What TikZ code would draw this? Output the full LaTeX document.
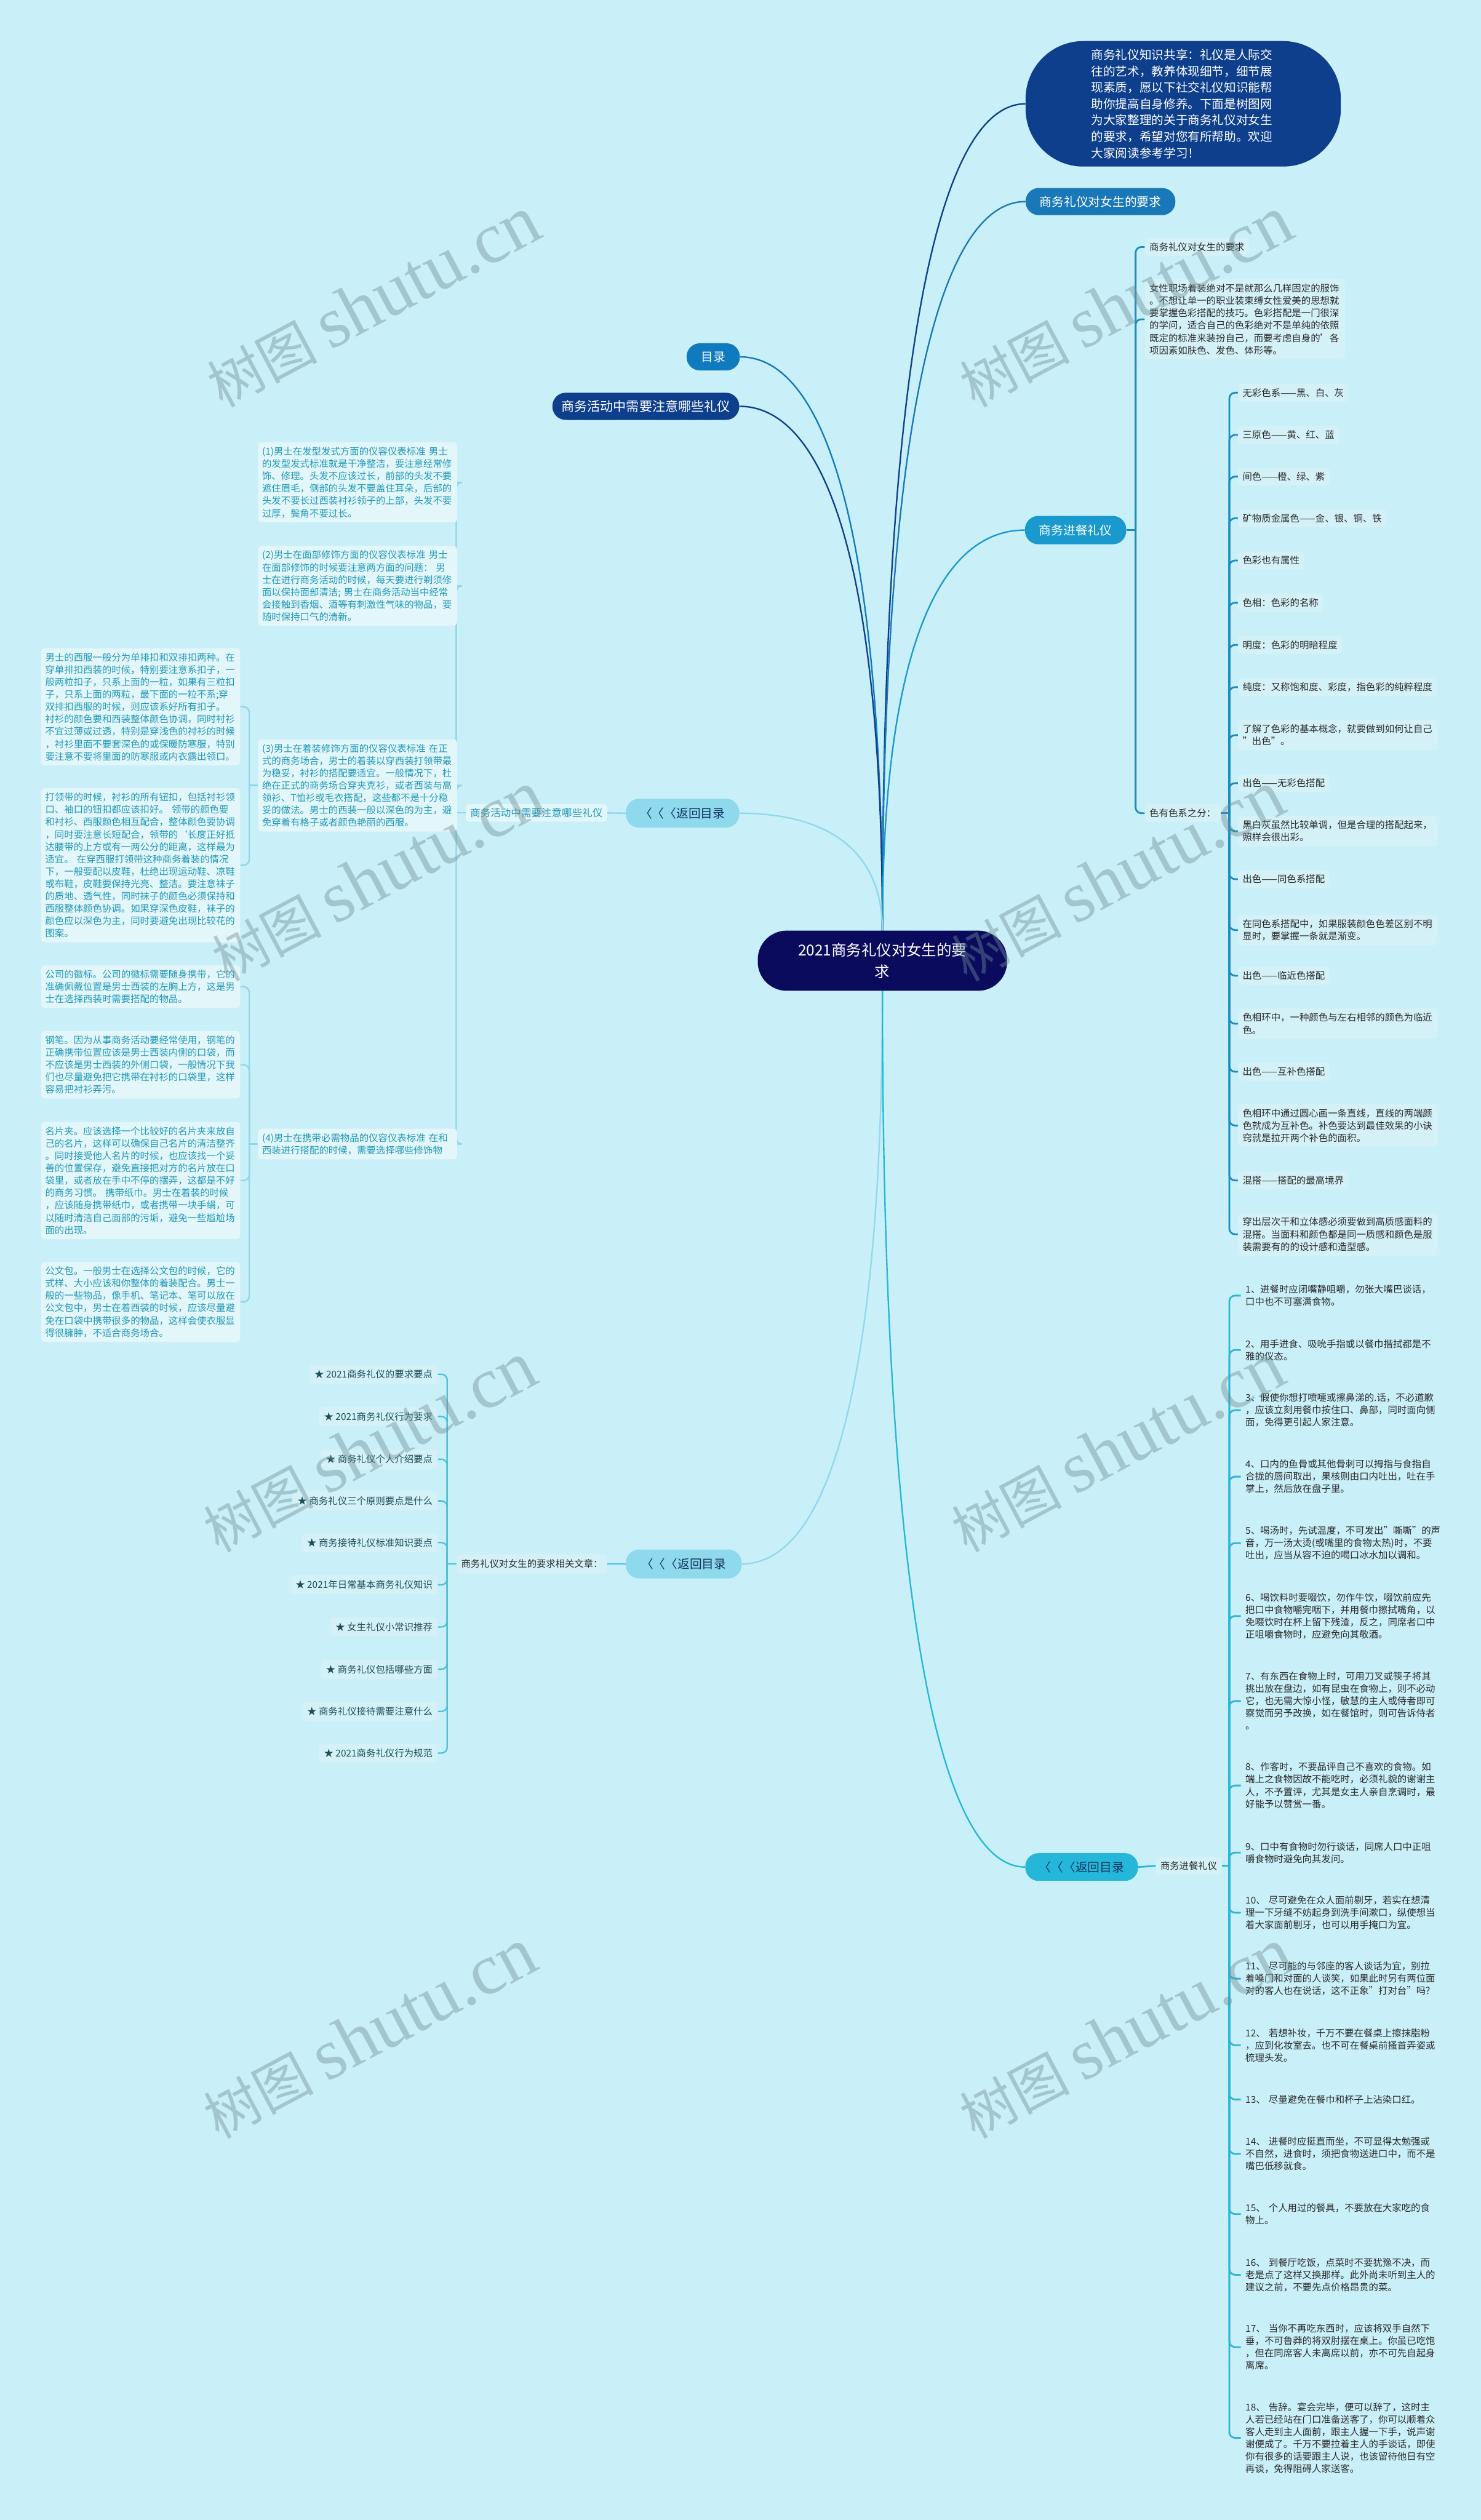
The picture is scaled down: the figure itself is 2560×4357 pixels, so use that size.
\documentclass[tikz,border=0pt]{standalone}
\usepackage{fontspec}
\setmainfont{Noto Sans CJK SC}
\newfontfamily\wmlatin{Liberation Serif}
\usetikzlibrary{calc}
\pgfdeclarelayer{back}\pgfdeclarelayer{bg}\pgfsetlayers{back,bg,main}
\definecolor{bgc}{HTML}{C9EFF8}
\definecolor{navy}{HTML}{0B0B5E}
\definecolor{dblue}{HTML}{0E3F8C}
\definecolor{mblue}{HTML}{1978B8}
\definecolor{mulublue}{HTML}{0F7BBE}
\definecolor{dineblue}{HTML}{1A99CF}
\definecolor{lcyan}{HTML}{8ED9EC}
\definecolor{bcyan}{HTML}{25B7D9}
\definecolor{brA}{HTML}{1C8DBF}
\definecolor{brD}{HTML}{2DB6D6}
\definecolor{brL}{HTML}{92D6E9}
\definecolor{brR}{HTML}{4CC1DB}
\definecolor{leaffill}{HTML}{D4F1F8}
\definecolor{tealfill}{HTML}{E3F6FA}
\definecolor{tealtext}{HTML}{2199B6}
\definecolor{darktext}{HTML}{2B2B2B}
\definecolor{listtext}{HTML}{1E4E58}
\definecolor{backtext}{HTML}{12355E}
\definecolor{wmcol}{HTML}{6F8E95}
\tikzset{
 cen/.style={fill=navy, text=white, rounded corners=50pt, minimum width=431pt, minimum height=104pt, inner sep=0pt, align=center, font=\fontsize{26}{37}\selectfont},
 introbox/.style={fill=dblue, text=white, rounded corners=100pt, minimum width=545pt, minimum height=217pt, inner sep=0pt, text width=318pt, align=left, font=\fontsize{20.9}{28.3}\selectfont},
 lonebox/.style={rounded corners=23pt, inner sep=0pt, minimum height=47pt, font=\fontsize{21}{25}\selectfont},
 leaf/.style={fill=leaffill, text=darktext, rounded corners=6pt, inner xsep=8pt, inner ysep=8pt, anchor=west, align=left, font=\fontsize{16.4}{21.4}\selectfont},
 leafm/.style={leaf, text width=330pt},
 dinebox/.style={text=darktext, inner xsep=8pt, inner ysep=4pt, anchor=west, align=left, text width=332pt, font=\fontsize{16.4}{21.3}\selectfont},
 tealbox/.style={fill=tealfill, text=tealtext, rounded corners=6pt, inner xsep=7pt, inner ysep=8pt, anchor=west, align=left, text width=330pt, font=\fontsize{16.4}{21.4}\selectfont},
 listbox/.style={fill=leaffill, text=listtext, rounded corners=6pt, inner xsep=9pt, inner ysep=9pt, anchor=east, font=\fontsize{16.4}{20}\selectfont},
 conn/.style={line width=2.5pt},
 br/.style={line width=3pt, rounded corners=10pt},
 brl/.style={line width=2.5pt, rounded corners=10pt},
 wm/.style={rotate=28, text=wmcol, text opacity=0.42, inner sep=0pt}
}
\begin{document}
\begin{tikzpicture}[x=1pt,y=-1pt]
\useasboundingbox (0,0) rectangle (2560,4357);
\begin{pgfonlayer}{back}
\fill[bgc] (0,0) rectangle (2560,4357);
\end{pgfonlayer}

% central and first level
\node[cen] (c) at (1525.5,1661) {2021商务礼仪对女生的要\\求};
\node[introbox] (intro) at (2045.5,179.5) {商务礼仪知识共享：礼仪是人际交\\往的艺术，教养体现细节，细节展\\现素质，愿以下社交礼仪知识能帮\\助你提高自身修养。下面是树图网\\为大家整理的关于商务礼仪对女生\\的要求，希望对您有所帮助。欢迎\\大家阅读参考学习！};
\node[lonebox, fill=mblue, text=white, minimum width=259pt] (req) at (1902.5,348.5) {商务礼仪对女生的要求};
\node[lonebox, fill=mulublue, text=white, minimum width=92pt] (mulu) at (1233,617) {目录};
\node[lonebox, fill=dblue, text=white, minimum width=323pt, font=\fontsize{22.5}{26}\selectfont] (act) at (1116.5,702.5) {商务活动中需要注意哪些礼仪};
\node[lonebox, fill=dineblue, text=white, minimum width=175pt, minimum height=49pt] (dine) at (1859.5,916.5) {商务进餐礼仪};
\node[lonebox, fill=lcyan, text=backtext, minimum width=196pt, minimum height=50pt] (back1) at (1180,1406) {〈〈〈返回目录};
\node[lonebox, fill=lcyan, text=backtext, minimum width=200pt, minimum height=50pt] (back2) at (1182,2704) {〈〈〈返回目录};
\node[lonebox, fill=bcyan, text=backtext, minimum width=195pt, minimum height=48pt] (back3) at (1870,3228) {〈〈〈返回目录};

% labels
\node[fill=tealfill, text=tealtext, rounded corners=5pt, inner xsep=8pt, inner ysep=7pt, anchor=east, font=\fontsize{17.6}{20}\selectfont] (lab1) at (1050,1405.5) {商务活动中需要注意哪些礼仪};
\node[fill=leaffill, text=darktext, rounded corners=5pt, inner xsep=8pt, inner ysep=9pt, anchor=east, font=\fontsize{16.3}{20}\selectfont] (lab2) at (1050,2704) {商务礼仪对女生的要求相关文章：};
\node[fill=leaffill, text=darktext, rounded corners=5pt, inner xsep=8pt, inner ysep=8pt, anchor=west, font=\fontsize{16.3}{20}\selectfont] (lab3) at (1998,3226) {商务进餐礼仪};

% right upper section
\node[leaf] (r1) at (1979,427) {商务礼仪对女生的要求};
\node[leafm] (r2) at (1979,552) {女性职场着装绝对不是就那么几样固定的服饰\\。不想让单一的职业装束缚女性爱美的思想就\\要掌握色彩搭配的技巧。色彩搭配是一门很深\\的学问，适合自己的色彩绝对不是单纯的依照\\既定的标准来装扮自己，而要考虑自身的\char39{}各\\项因素如肤色、发色、体形等。};
\node[leaf] (r3) at (1979,1406) {色有色系之分：};

\node[leaf] (s1) at (2140,679) {无彩色系——黑、白、灰};
\node[leaf] (s2) at (2140,752) {三原色——黄、红、蓝};
\node[leaf] (s3) at (2140,824) {间色——橙、绿、紫};
\node[leaf] (s4) at (2140,896) {矿物质金属色——金、银、铜、铁};
\node[leaf] (s5) at (2140,969) {色彩也有属性};
\node[leaf] (s6) at (2140,1042) {色相：色彩的名称};
\node[leaf] (s7) at (2140,1115) {明度：色彩的明暗程度};
\node[leaf] (s8) at (2140,1188) {纯度：又称饱和度、彩度，指色彩的纯粹程度};
\node[leafm] (s9) at (2140,1271) {了解了色彩的基本概念，就要做到如何让自己\\"出色"。};
\node[leaf] (s10) at (2140,1354) {出色——无彩色搭配};
\node[leafm] (s11) at (2140,1437) {黑白灰虽然比较单调，但是合理的搭配起来，\\照样会很出彩。};
\node[leaf] (s12) at (2140,1520) {出色——同色系搭配};
\node[leafm] (s13) at (2140,1608) {在同色系搭配中，如果服装颜色色差区别不明\\显时，要掌握一条就是渐变。};
\node[leaf] (s14) at (2140,1687) {出色——临近色搭配};
\node[leafm] (s15) at (2140,1770) {色相环中，一种颜色与左右相邻的颜色为临近\\色。};
\node[leaf] (s16) at (2140,1853) {出色——互补色搭配};
\node[leafm] (s17) at (2140,1946) {色相环中通过圆心画一条直线，直线的两端颜\\色就成为互补色。补色要达到最佳效果的小诀\\窍就是拉开两个补色的面积。};
\node[leaf] (s18) at (2140,2041) {混搭——搭配的最高境界};
\node[leafm] (s19) at (2140,2134) {穿出层次干和立体感必须要做到高质感面料的\\混搭。当面料和颜色都是同一质感和颜色是服\\装需要有的的设计感和造型感。};

% dining section
\node[dinebox] (d1) at (2145,2240) {1、进餐时应闭嘴静咀嚼，勿张大嘴巴谈话，\\口中也不可塞满食物。};
\node[dinebox] (d2) at (2145,2334) {2、用手进食、吸吮手指或以餐巾揩拭都是不\\雅的仪态。};
\node[dinebox] (d3) at (2145,2438) {3、假使你想打喷嚏或擦鼻涕的.话，不必道歉\\，应该立刻用餐巾按住口、鼻部，同时面向侧\\面，免得更引起人家注意。};
\node[dinebox] (d4) at (2145,2553) {4、口内的鱼骨或其他骨刺可以拇指与食指自\\合拢的唇间取出，果核则由口内吐出，吐在手\\掌上，然后放在盘子里。};
\node[dinebox] (d5) at (2145,2668) {5、喝汤时，先试温度，不可发出"嘶嘶"的声\\音，万一汤太烫(或嘴里的食物太热)时，不要\\吐出，应当从容不迫的喝口冰水加以调和。};
\node[dinebox] (d6) at (2145,2794) {6、喝饮料时要啜饮，勿作牛饮，啜饮前应先\\把口中食物嚼完咽下，并用餐巾擦拭嘴角，以\\免啜饮时在杯上留下残渣，反之，同席者口中\\正咀嚼食物时，应避免向其敬酒。};
\node[dinebox] (d7) at (2145,2941) {7、有东西在食物上时，可用刀叉或筷子将其\\挑出放在盘边，如有昆虫在食物上，则不必动\\它，也无需大惊小怪，敏慧的主人或侍者即可\\察觉而另予改换，如在餐馆时，则可告诉侍者\\。};
\node[dinebox] (d8) at (2145,3087) {8、作客时，不要品评自己不喜欢的食物。如\\端上之食物因故不能吃时，必须礼貌的谢谢主\\人，不予置评，尤其是女主人亲自烹调时，最\\好能予以赞赏一番。};
\node[dinebox] (d9) at (2145,3203) {9、口中有食物时勿行谈话，同席人口中正咀\\嚼食物时避免向其发问。};
\node[dinebox] (d10) at (2145,3307) {10、~尽可避免在众人面前剔牙，若实在想清\\理一下牙缝不妨起身到洗手间漱口，纵使想当\\着大家面前剔牙，也可以用手掩口为宜。};
\node[dinebox] (d11) at (2145,3421) {11、~尽可能的与邻座的客人谈话为宜，别拉\\着嗓门和对面的人谈笑，如果此时另有两位面\\对的客人也在说话，这不正象"打对台"吗?};
\node[dinebox] (d12) at (2145,3536) {12、~若想补妆，千万不要在餐桌上擦抹脂粉\\，应到化妆室去。也不可在餐桌前搔首弄姿或\\梳理头发。};
\node[dinebox] (d13) at (2145,3630) {13、~尽量避免在餐巾和杯子上沾染口红。};
\node[dinebox] (d14) at (2145,3724) {14、~进餐时应挺直而坐，不可显得太勉强或\\不自然，进食时，须把食物送进口中，而不是\\嘴巴低移就食。};
\node[dinebox] (d15) at (2145,3828) {15、~个人用过的餐具，不要放在大家吃的食\\物上。};
\node[dinebox] (d16) at (2145,3933) {16、~到餐厅吃饭，点菜时不要犹豫不决，而\\老是点了这样又换那样。此外尚未听到主人的\\建议之前，不要先点价格昂贵的菜。};
\node[dinebox] (d17) at (2145,4058) {17、~当你不再吃东西时，应该将双手自然下\\垂，不可鲁莽的将双肘摆在桌上。你虽已吃饱\\，但在同席客人未离席以前，亦不可先自起身\\离席。};
\node[dinebox] (d18) at (2145,4215) {18、~告辞。宴会完毕，便可以辞了，这时主\\人若已经站在门口准备送客了，你可以顺着众\\客人走到主人面前，跟主人握一下手，说声谢\\谢便成了。千万不要拉着主人的手谈话，即使\\你有很多的话要跟主人说，也该留待他日有空\\再谈，免得阻碍人家送客。};

% left section
\node[tealbox] (A1) at (446,834) {(1)男士在发型发式方面的仪容仪表标准~男士\\的发型发式标准就是干净整洁，要注意经常修\\饰、修理。头发不应该过长，前部的头发不要\\遮住眉毛，侧部的头发不要盖住耳朵，后部的\\头发不要长过西装衬衫领子的上部，头发不要\\过厚，鬓角不要过长。};
\node[tealbox] (A2) at (446,1013) {(2)男士在面部修饰方面的仪容仪表标准~男士\\在面部修饰的时候要注意两方面的问题：~男\\士在进行商务活动的时候，每天要进行剃须修\\面以保持面部清洁;~男士在商务活动当中经常\\会接触到香烟、酒等有刺激性气味的物品，要\\随时保持口气的清新。};
\node[tealbox] (A3) at (446,1358) {(3)男士在着装修饰方面的仪容仪表标准~在正\\式的商务场合，男士的着装以穿西装打领带最\\为稳妥，衬衫的搭配要适宜。一般情况下，杜\\绝在正式的商务场合穿夹克衫，或者西装与高\\领衫、T恤衫或毛衣搭配，这些都不是十分稳\\妥的做法。男士的西装一般以深色的为主，避\\免穿着有格子或者颜色艳丽的西服。};
\node[tealbox] (A4) at (446,1978) {(4)男士在携带必需物品的仪容仪表标准~在和\\西装进行搭配的时候，需要选择哪些修饰物};

\node[tealbox] (B1) at (71,1222) {男士的西服一般分为单排扣和双排扣两种。在\\穿单排扣西装的时候，特别要注意系扣子，一\\般两粒扣子，只系上面的一粒，如果有三粒扣\\子，只系上面的两粒，最下面的一粒不系;穿\\双排扣西服的时候，则应该系好所有扣子。\\衬衫的颜色要和西装整体颜色协调，同时衬衫\\不宜过薄或过透，特别是穿浅色的衬衫的时候\\，衬衫里面不要套深色的或保暖防寒服，特别\\要注意不要将里面的防寒服或内衣露出领口。};
\node[tealbox] (B2) at (71,1496) {打领带的时候，衬衫的所有钮扣，包括衬衫领\\口、袖口的钮扣都应该扣好。~领带的颜色要\\和衬衫、西服颜色相互配合，整体颜色要协调\\，同时要注意长短配合，领带的\char96{}长度正好抵\\达腰带的上方或有一两公分的距离，这样最为\\适宜。~在穿西服打领带这种商务着装的情况\\下，一般要配以皮鞋，杜绝出现运动鞋、凉鞋\\或布鞋，皮鞋要保持光亮、整洁。要注意袜子\\的质地、透气性，同时袜子的颜色必须保持和\\西服整体颜色协调。如果穿深色皮鞋，袜子的\\颜色应以深色为主，同时要避免出现比较花的\\图案。};
\node[tealbox] (B3) at (71,1706) {公司的徽标。公司的徽标需要随身携带，它的\\准确佩戴位置是男士西装的左胸上方，这是男\\士在选择西装时需要搭配的物品。};
\node[tealbox] (B4) at (71,1841) {钢笔。因为从事商务活动要经常使用，钢笔的\\正确携带位置应该是男士西装内侧的口袋，而\\不应该是男士西装的外侧口袋，一般情况下我\\们也尽量避免把它携带在衬衫的口袋里，这样\\容易把衬衫弄污。};
\node[tealbox] (B5) at (71,2041) {名片夹。应该选择一个比较好的名片夹来放自\\己的名片，这样可以确保自己名片的清洁整齐\\。同时接受他人名片的时候，也应该找一个妥\\善的位置保存，避免直接把对方的名片放在口\\袋里，或者放在手中不停的摆弄，这都是不好\\的商务习惯。~携带纸巾。男士在着装的时候\\，应该随身携带纸巾，或者携带一块手绢，可\\以随时清洁自己面部的污垢，避免一些尴尬场\\面的出现。};
\node[tealbox] (B6) at (71,2251) {公文包。一般男士在选择公文包的时候，它的\\式样、大小应该和你整体的着装配合。男士一\\般的一些物品，像手机、笔记本、笔可以放在\\公文包中，男士在着西装的时候，应该尽量避\\免在口袋中携带很多的物品，这样会使衣服显\\得很臃肿，不适合商务场合。};

% related articles
\node[listbox] (i1) at (757,2376) {★~2021商务礼仪的要求要点};
\node[listbox] (i2) at (757,2449) {★~2021商务礼仪行为要求};
\node[listbox] (i3) at (757,2523) {★~商务礼仪个人介绍要点};
\node[listbox] (i4) at (757,2595) {★~商务礼仪三个原则要点是什么};
\node[listbox] (i5) at (757,2667) {★~商务接待礼仪标准知识要点};
\node[listbox] (i6) at (757,2740) {★~2021年日常基本商务礼仪知识};
\node[listbox] (i7) at (757,2813) {★~女生礼仪小常识推荐};
\node[listbox] (i8) at (757,2886) {★~商务礼仪包括哪些方面};
\node[listbox] (i9) at (757,2959) {★~商务礼仪接待需要注意什么};
\node[listbox] (i10) at (757,3031) {★~2021商务礼仪行为规范};

\begin{pgfonlayer}{bg}
% main curves
\draw[conn, dblue] (c.north) .. controls (1525.5,607) and (1624,179.5) .. (intro.west);
\draw[conn, mblue] (c.north) .. controls (1525.5,727) and (1624,348.5) .. (req.west);
\draw[conn, mulublue] (c.north) .. controls (1525.5,915) and (1426,617) .. (mulu.east);
\draw[conn, dblue] (c.north) .. controls (1525.5,975) and (1426,702.5) .. (act.east);
\draw[conn, dineblue] (c.north) .. controls (1525.5,1124) and (1624,916.5) .. (dine.west);
\draw[conn, lcyan] (c.north) .. controls (1525.5,1467) and (1426,1406) .. (back1.east);
\draw[conn, lcyan] (c.south) .. controls (1525.5,2407) and (1429,2704) .. (back2.east);
\draw[conn, bcyan] (c.south) .. controls (1525.5,2774) and (1624,3228) .. (back3.west);

% right upper bracket
\coordinate (bA) at ($(dine.east)+(16,0)$);
\draw[br, brA] (dine.east) -- (bA);
\foreach \n in {r1,r2,r3} \draw[br, brA] (bA) -- (bA |- \n.west) -- (\n.west);
\coordinate (bS) at ($(r3.east)+(15,0)$);
\draw[br, brA] (r3.east) -- (bS);
\foreach \i in {1,...,19} \draw[br, brA] (bS) -- (bS |- s\i.west) -- (s\i.west);

% dining bracket
\draw[br, brD] (back3.east) -- (lab3.west);
\coordinate (bD) at ($(lab3.east)+(13,0)$);
\draw[br, brD] (lab3.east) -- (bD);
\foreach \i in {1,...,18} \draw[br, brD] (bD) -- (bD |- d\i.west) -- (d\i.west);

% left brackets
\draw[brl, brL] (back1.west) -- (lab1.east);
\coordinate (bL) at ($(lab1.west)+(-16,0)$);
\draw[brl, brL] (lab1.west) -- (bL);
\foreach \n in {A1,A2,A3,A4} \draw[brl, brL] (bL) -- (bL |- \n.east) -- (\n.east);
\coordinate (b3) at ($(A3.west)+(-15,0)$);
\draw[brl, brL] (A3.west) -- (b3);
\foreach \n in {B1,B2} \draw[brl, brL] (b3) -- (b3 |- \n.east) -- (\n.east);
\coordinate (b4) at ($(A4.west)+(-15,0)$);
\draw[brl, brL] (A4.west) -- (b4);
\foreach \n in {B3,B4,B5,B6} \draw[brl, brL] (b4) -- (b4 |- \n.east) -- (\n.east);

% related list bracket
\draw[brl, brR] (back2.west) -- (lab2.east);
\coordinate (bR) at ($(lab2.west)+(-16,0)$);
\draw[brl, brR] (lab2.west) -- (bR);
\foreach \i in {1,...,10} \draw[brl, brR] (bR) -- (bR |- i\i.east) -- (i\i.east);
\end{pgfonlayer}

% watermarks
\foreach \p in {(645,522),(1946,522),(653,1515),(1932,1515),(639,2502),(1932,2502),(639,3516),(1946,3516)}
  \node[wm] at \p {{\fontsize{95}{100}\selectfont 树图}\hspace{22pt}{\wmlatin\fontsize{125}{130}\selectfont shutu.cn}};
\end{tikzpicture}
\end{document}
